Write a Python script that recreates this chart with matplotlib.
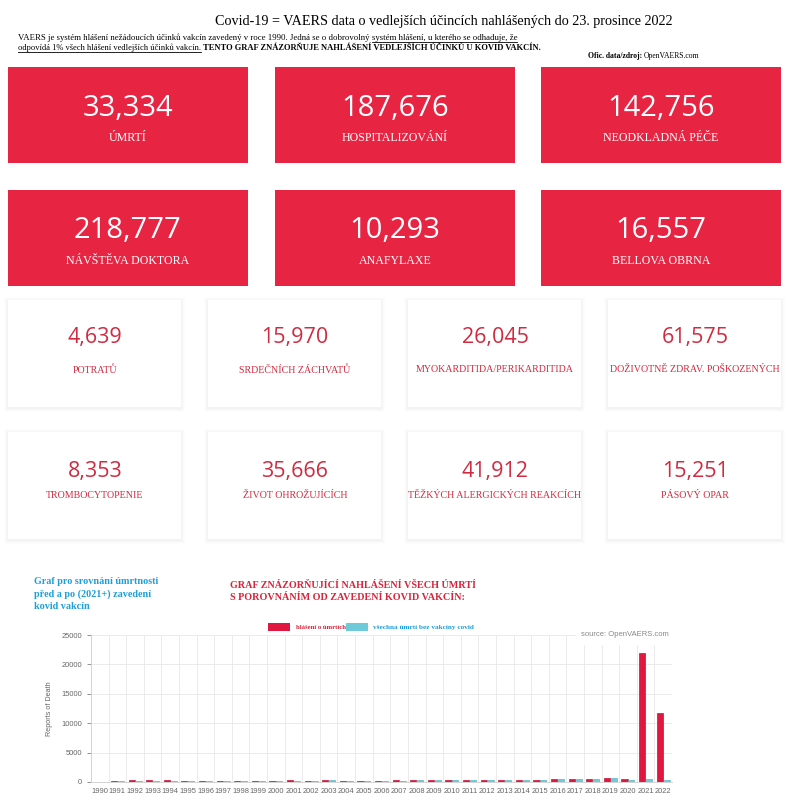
import matplotlib.pyplot as plt
from matplotlib.patches import Rectangle
import numpy as np

# bar chart data (deaths reported per year)
years = [str(y) for y in range(1990, 2023)]
death_reports = [80, 230, 280, 270, 280, 190, 180, 200, 190, 210, 240, 260, 220, 300, 240,
                 250, 220, 260, 300, 300, 290, 290, 280, 290, 310, 350, 450, 480, 520, 620,
                 430, 22000, 11800]
other_deaths = [40, 210, 250, 240, 250, 170, 160, 180, 170, 190, 210, 230, 200, 270, 220,
                230, 200, 240, 280, 280, 270, 270, 260, 270, 290, 330, 430, 460, 500, 640,
                400, 480, 390]

# summary cards
red_values = ["33,334", "187,676", "142,756", "218,777", "10,293", "16,557"]
red_labels = ["ÚMRTÍ", "HOSPITALIZOVÁNÍ", "NEODKLADNÁ PÉČE",
              "NÁVŠTĚVA DOKTORA", "ANAFYLAXE", "BELLOVA OBRNA"]
white_values = ["4,639", "15,970", "26,045", "61,575",
                "8,353", "35,666", "41,912", "15,251"]
white_labels = ["POTRATŮ", "SRDEČNÍCH ZÁCHVATŮ", "MYOKARDITIDA/PERIKARDITIDA",
                "DOŽIVOTNĚ ZDRAV. POŠKOZENÝCH", "TROMBOCYTOPENIE", "ŽIVOT OHROŽUJÍCÍCH",
                "TĚŽKÝCH ALERGICKÝCH REAKCÍCH", "PÁSOVÝ OPAR"]

CARD_RED = '#E82443'
TEXT_RED = '#D02B40'
BAR_RED = '#E0173F'
BAR_CYAN = '#6ECAD9'
BLUE = '#1E9FD8'
SERIF = 'Liberation Serif'
NUMFONT = 'Open Sans'

fig = plt.figure(figsize=(7.89, 8.0), dpi=100)

# background axes in pixel coordinates
bg = fig.add_axes([0, 0, 1, 1])
bg.set_xlim(0, 789)
bg.set_ylim(800, 0)
bg.axis('off')

fig.canvas.draw()
renderer = fig.canvas.get_renderer()


def text_run(parts, x, y, size):
    # put several text pieces one after another on the same baseline
    for txt, weight, underline in parts:
        t = bg.text(x, y, txt, fontsize=size, fontweight=weight, family=SERIF,
                    va='baseline', ha='left', color='black')
        w = t.get_window_extent(renderer=renderer).width
        if underline:
            bg.plot([x, x + w], [y + 1.5, y + 1.5], color='black', lw=0.6)
        x += w


# header
bg.text(444, 25, "Covid-19 = VAERS data o vedlejších účincích nahlášených do 23. prosince 2022",
        fontsize=10.2, family=SERIF, ha='center', va='baseline')
text_run([("VAERS je systém hlášení nežádoucích účinků vakcín zavedený v roce 1990. Jedná se o dobrovolný ", 'normal', False),
          ("systém hlášení, u kterého se odhaduje, že", 'normal', True)], 18, 40, 6.3)
text_run([("odpovídá 1% všech hlášení vedlejších účinků vakcín.", 'normal', True),
          (" TENTO GRAF ZNÁZORŇUJE NAHLÁŠENÍ VEDLEJŠÍCH ÚČINKŮ U KOVID VAKCÍN.", 'bold', False)], 18, 50, 6.1)
text_run([("Ofic. data/zdroj: ", 'bold', False), ("OpenVAERS.com", 'normal', False)], 588, 58, 5.5)

# red cards
red_x = [8, 275, 541]
red_y = [67, 190]
for i, (val, lab) in enumerate(zip(red_values, red_labels)):
    cx = red_x[i % 3]
    cy = red_y[i // 3]
    bg.add_patch(Rectangle((cx, cy), 240, 96, facecolor=CARD_RED, edgecolor='none'))
    bg.text(cx + 120, cy + 41, val, fontsize=21, family=NUMFONT, color='white',
            ha='center', va='center')
    bg.text(cx + 120, cy + 71, lab, fontsize=8.6, family=SERIF, color='white',
            ha='center', va='center')

# white cards with soft shadow
white_x = [8, 208, 408, 608]
white_y = [300, 432]
for i, (val, lab) in enumerate(zip(white_values, white_labels)):
    cx = white_x[i % 4]
    cy = white_y[i // 4]
    for k, a in zip([4, 3, 2, 1], [0.008, 0.010, 0.013, 0.016]):
        bg.add_patch(Rectangle((cx - k, cy - k + 1), 173 + 2 * k, 107 + 2 * k,
                               facecolor='black', alpha=a, edgecolor='none'))
    bg.add_patch(Rectangle((cx, cy), 173, 107, facecolor='white', edgecolor='none'))
    dy = 38 if i < 4 else 39
    ly = 70 if i < 4 else 63
    bg.text(cx + 87, cy + dy, val, fontsize=15.5, family=NUMFONT, color=TEXT_RED,
            ha='center', va='center')
    bg.text(cx + 87, cy + ly, lab, fontsize=7.2, family=SERIF, color=TEXT_RED,
            ha='center', va='center')

# chart titles
bg.text(34, 577, "Graf pro srovnání úmrtnosti\npřed a po (2021+) zavedení\nkovid vakcín",
        fontsize=7.3, family=SERIF, fontweight='bold', color=BLUE, ha='left', va='top',
        linespacing=1.45)
bg.text(230, 581, "GRAF ZNÁZORŇUJÍCÍ NAHLÁŠENÍ VŠECH ÚMRTÍ\nS POROVNÁNÍM OD ZAVEDENÍ KOVID VAKCÍN:",
        fontsize=7.3, family=SERIF, fontweight='bold', color='#D8233A', ha='left', va='top',
        linespacing=1.45)

# legend
bg.add_patch(Rectangle((268, 623), 22, 8, facecolor=BAR_RED, edgecolor='none'))
bg.text(296, 627.5, "hlášení o úmrtích", fontsize=4.8, family=SERIF, fontweight='bold',
        color='#D8233A', ha='left', va='center')
bg.add_patch(Rectangle((346, 623), 22, 8, facecolor=BAR_CYAN, edgecolor='none'))
bg.text(373, 627.5, "všechna úmrtí bez vakcíny covid", fontsize=5.2, family=SERIF,
        fontweight='bold', color=BLUE, ha='left', va='center')

# bar chart
ax = fig.add_axes([91 / 789, 18 / 800, 581 / 789, 147 / 800])
x = np.arange(len(years))
bw = 0.35
ax.bar(x - bw / 2 - 0.02, death_reports, bw, color=BAR_RED, edgecolor='#C8123A', linewidth=0.5)
ax.bar(x + bw / 2 + 0.02, other_deaths, bw, color=BAR_CYAN, edgecolor='#5AB8C8', linewidth=0.5)
ax.set_xlim(-0.5, len(years) - 0.5)
ax.set_ylim(0, 25000)
ax.set_yticks(range(0, 25001, 5000))
ax.set_xticks(x)
ax.set_xticklabels(years)
ax.tick_params(axis='both', labelsize=5.4, colors='#666666', length=3, width=0.5)
ax.tick_params(axis='x', length=0, pad=4)
for lbl in ax.get_xticklabels() + ax.get_yticklabels():
    lbl.set_family('Liberation Sans')
for b in np.arange(len(years)) + 0.5:
    ax.axvline(b, color='#e8e8e8', lw=0.6, zorder=0)
ax.grid(axis='y', color='#e8e8e8', lw=0.6)
ax.set_axisbelow(True)
for s in ['top', 'right']:
    ax.spines[s].set_visible(False)
ax.spines['left'].set_color('#cccccc')
ax.spines['bottom'].set_color('#cccccc')
ax.spines['left'].set_linewidth(0.6)
ax.spines['bottom'].set_linewidth(0.6)
ax.set_ylabel("Reports of Death", fontsize=5.2, color='#666666', labelpad=6,
              family='Liberation Sans')
ax.text(0.995, 1.0, "source: OpenVAERS.com", transform=ax.transAxes, fontsize=5.5,
        color='#888888', ha='right', va='center', backgroundcolor='white',
        family='Liberation Sans')

fig.savefig('out.png', dpi=100)
